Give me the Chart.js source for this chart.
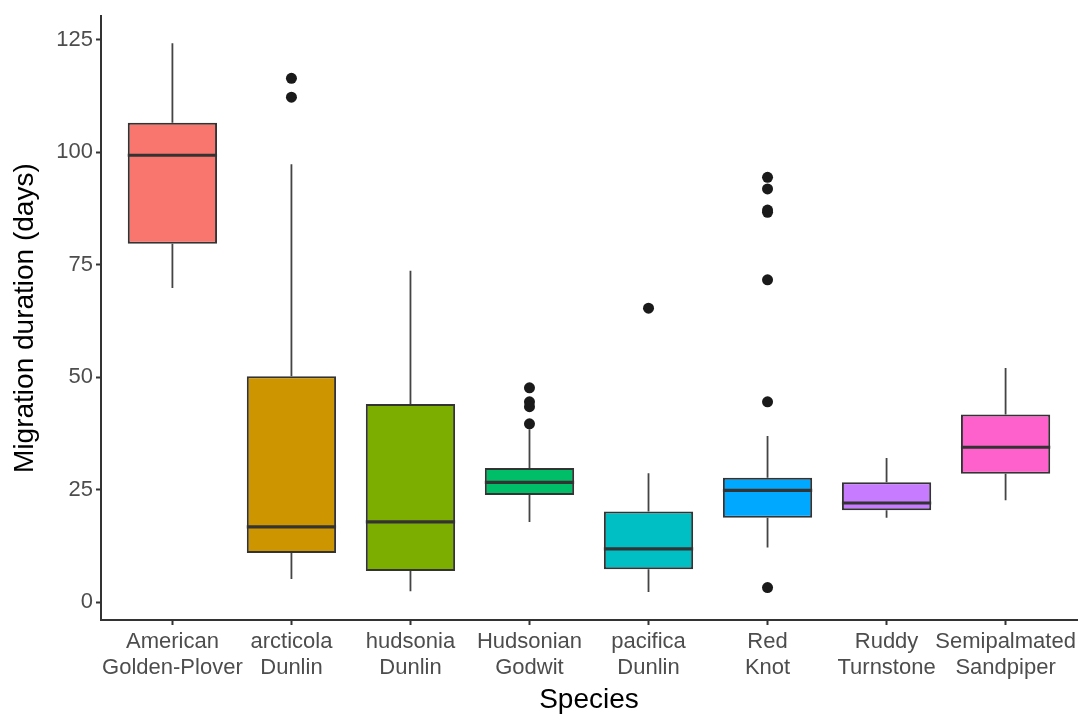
<!DOCTYPE html>
<html>
<head>
<meta charset="utf-8">
<script src="https://cdn.jsdelivr.net/npm/chart.js@4"></script>
<style>
  body { margin: 0; background: #fff; }
  #wrap { width: 1088px; height: 721px; }
</style>
</head>
<body>
<div id="wrap"><canvas id="chartCanvas"></canvas></div>
<script>
// Box plot values (days)
const categories = ['American Golden-Plover', 'arcticola Dunlin', 'hudsonia Dunlin', 'Hudsonian Godwit',
                    'pacifica Dunlin', 'Red Knot', 'Ruddy Turnstone', 'Semipalmated Sandpiper'];
const lowerWhisker = [69.8, 5.1, 2.4, 17.8, 2.2, 12.1, 18.7, 22.6];
const q1 = [79.6, 10.9, 6.9, 23.8, 7.3, 18.7, 20.4, 28.5];
const medians = [99.3, 16.7, 17.8, 26.6, 11.8, 24.8, 22.0, 34.4];
const q3 = [106.5, 50.2, 44.0, 29.8, 20.1, 27.6, 26.6, 41.7];
const upperWhisker = [124.2, 97.3, 73.6, 38.4, 28.6, 36.9, 32.0, 52.0];
const outliers = [[], [116.4, 112.2], [], [47.6, 44.5, 43.4, 39.6], [65.3],
                  [94.4, 91.8, 87.1, 86.6, 71.6, 44.5, 3.2], [], []];
const boxColors = ['#F8766D', '#CD9600', '#7CAE00', '#00BE67', '#00BFC4', '#00A9FF', '#C77CFF', '#FF61CC'];
const yTicks = [0, 25, 50, 75, 100, 125];

const boxData = categories.map((c, i) => ({ x: i, y: [q1[i], q3[i]] }));
const outlierData = [];
outliers.forEach((list, i) => list.forEach(v => outlierData.push({ x: i, y: v })));

// whiskers behind the boxes, medians on top
const boxPlotLines = {
  id: 'boxPlotLines',
  beforeDatasetsDraw(chart) {
    const ctx = chart.ctx;
    const xs = chart.scales.x, ys = chart.scales.y;
    ctx.save();
    ctx.strokeStyle = '#444444';
    ctx.lineWidth = 1.8;
    categories.forEach((c, i) => {
      const x = xs.getPixelForValue(i);
      ctx.beginPath();
      ctx.moveTo(x, ys.getPixelForValue(lowerWhisker[i]));
      ctx.lineTo(x, ys.getPixelForValue(q1[i]));
      ctx.moveTo(x, ys.getPixelForValue(q3[i]));
      ctx.lineTo(x, ys.getPixelForValue(upperWhisker[i]));
      ctx.stroke();
    });
    ctx.restore();
  },
  afterDatasetsDraw(chart) {
    const ctx = chart.ctx;
    const ys = chart.scales.y;
    const meta = chart.getDatasetMeta(0);
    ctx.save();
    ctx.strokeStyle = '#333333';
    ctx.lineWidth = 3.2;
    meta.data.forEach((bar, i) => {
      const y = ys.getPixelForValue(medians[i]);
      ctx.beginPath();
      ctx.moveTo(bar.x - bar.width / 2, y);
      ctx.lineTo(bar.x + bar.width / 2, y);
      ctx.stroke();
    });
    ctx.restore();
  }
};

function renderChart() {
  const ctx = document.getElementById('chartCanvas').getContext('2d');
  new Chart(ctx, {
    type: 'bar',
    data: {
      datasets: [{
        label: 'Box',
        data: boxData,
        backgroundColor: boxColors,
        borderColor: '#333333',
        borderWidth: 2,
        borderSkipped: false,
        barPercentage: 0.75,
        categoryPercentage: 1,
        order: 2
      }, {
        type: 'scatter',
        label: 'Outliers',
        data: outlierData,
        pointRadius: 5.5,
        pointBackgroundColor: '#1a1a1a',
        pointBorderWidth: 0,
        order: 1
      }]
    },
    options: {
      responsive: true,
      maintainAspectRatio: false,
      animation: false,
      layout: { padding: { top: 15, right: 11, left: 0, bottom: 0 } },
      plugins: {
        legend: { display: false },
        tooltip: { enabled: false }
      },
      scales: {
        x: {
          type: 'linear',
          min: -0.6,
          max: 7.6,
          offset: false,
          afterBuildTicks: s => { s.ticks = categories.map((c, i) => ({ value: i })); },
          afterFit: s => { s.height = 101; },
          ticks: {
            callback: v => categories[v].split(' '),
            color: '#4d4d4d',
            font: { family: 'Liberation Sans, Arial', size: 22, lineHeight: 1.18 },
            padding: 4,
            maxRotation: 0,
            autoSkip: false
          },
          grid: { drawOnChartArea: false, offset: false, tickLength: 5, color: '#333333', tickWidth: 2 },
          border: { display: true, color: '#333333', width: 2 },
          title: {
            display: true,
            text: 'Species',
            color: '#000',
            font: { family: 'Liberation Sans, Arial', size: 28 },
            padding: { top: 0, bottom: 4 }
          }
        },
        y: {
          min: -4.0,
          max: 130.2,
          afterBuildTicks: s => { s.ticks = yTicks.map(v => ({ value: v })); },
          afterFit: s => { s.width = 101; },
          ticks: {
            color: '#4d4d4d',
            font: { family: 'Liberation Sans, Arial', size: 22 },
            padding: 3
          },
          grid: { drawOnChartArea: false, tickLength: 5, color: '#333333', tickWidth: 2 },
          border: { display: true, color: '#333333', width: 2 },
          title: {
            display: true,
            text: 'Migration duration (days)',
            color: '#000',
            font: { family: 'Liberation Sans, Arial', size: 28 },
            padding: { top: 8, bottom: 0 }
          }
        }
      }
    },
    plugins: [boxPlotLines]
  });
}

window.onload = function() {
  renderChart();
};
</script>
</body>
</html>
